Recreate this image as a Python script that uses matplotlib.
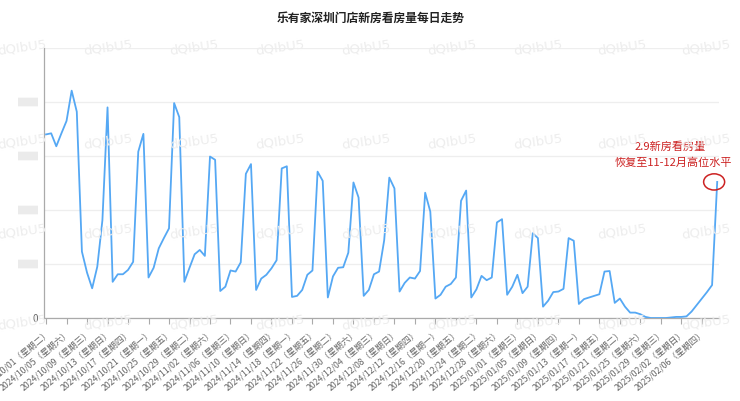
import matplotlib
matplotlib.use("Agg")
import matplotlib.pyplot as plt
import matplotlib.transforms as mtransforms
from matplotlib.patches import Ellipse, FancyBboxPatch
import pandas as pd

plt.rcParams['font.family'] = ['Noto Sans CJK SC', 'DejaVu Sans']

title = "乐有家深圳门店新房看房量每日走势"
start_date = "2024-10-01"
end_date = "2025-02-09"
weekday_names = ["星期一", "星期二", "星期三", "星期四", "星期五", "星期六", "星期日"]
values = [340, 342, 318, 342, 365, 421, 382, 123, 84, 55,
          95, 181, 390, 67, 81, 81, 89, 104, 308, 341,
          75, 93, 129, 148, 166, 398, 372, 67, 93, 118,
          126, 115, 299, 293, 50, 58, 88, 86, 103, 267,
          285, 52, 73, 80, 92, 107, 277, 281, 39, 41,
          52, 80, 88, 271, 254, 38, 77, 93, 94, 121,
          251, 223, 41, 52, 81, 86, 144, 260, 240, 49,
          65, 75, 73, 87, 232, 197, 36, 43, 58, 63,
          75, 217, 236, 38, 53, 78, 70, 75, 177, 183,
          43, 58, 80, 46, 58, 157, 148, 21, 32, 48,
          49, 54, 148, 143, 26, 35, 38, 41, 44, 86,
          87, 28, 36, 21, 10, 10, 7, 2, 0, 0,
          0, 0, 1, 2, 2, 3, 12, 24, 36, 48,
          61, 252]
yticks = [0, 100, 200, 300, 400, 500]
annotation_lines = ["2.9新房看房量", "恢复至11-12月高位水平"]
watermark = "dQIbU5"

dates = pd.date_range(start_date, end_date, freq="D")
labels = [f"{d.year}/{d.month:02d}/{d.day:02d}（{weekday_names[d.weekday()]}）" for d in dates]
x = list(range(len(dates)))

fig = plt.figure(figsize=(7.40, 4.01), dpi=100)
ax = fig.add_axes([44/740, 1-318/401, 675/740, 270/401])

ax.plot(x, values, color='#55a8f4', lw=1.3, zorder=3, solid_joinstyle='round')

ax.set_xlim(-0.4, len(x) - 1 + 0.35)
ax.set_ylim(0, 500)
ax.set_yticks(yticks)
ax.set_yticklabels(["0"] + [""] * (len(yticks) - 1), fontsize=7, color='#666666')
ax.yaxis.grid(True, color='#eeeeee', lw=0.9)
ax.set_axisbelow(True)
ax.tick_params(axis='y', length=0, pad=4)

tick_idx = x[::4]
ax.set_xticks(tick_idx)
ax.set_xticklabels([labels[i] for i in tick_idx], rotation=40, ha='right',
                   rotation_mode='anchor', fontsize=6.3, color='#666666')
ax.tick_params(axis='x', length=4, color='#aaaaaa', pad=3)

for s in ['top', 'right']:
    ax.spines[s].set_visible(False)
for s in ['left', 'bottom']:
    ax.spines[s].set_color('#aaaaaa')
    ax.spines[s].set_linewidth(0.9)

# blurred y labels
trans = mtransforms.blended_transform_factory(fig.transFigure, ax.transData)
for v in yticks[1:-1]:
    p = FancyBboxPatch((18/740, v - 8), 20/740, 16, boxstyle="round,pad=0,rounding_size=0.003",
                       transform=trans, facecolor='#ebebeb', edgecolor='none', clip_on=False)
    fig.add_artist(p)

# annotation
last = len(x) - 1
ell = Ellipse((last - 0.6, values[-1]), width=4.1, height=30, fill=False,
              edgecolor='#cc2222', lw=1.1, zorder=4, clip_on=False)
ax.add_patch(ell)
ax.text(last - 9.2, values[-1] + 66, annotation_lines[0], color='#cc2222',
        fontsize=8, ha='center', va='center')
ax.text(last - 8.6, values[-1] + 36, annotation_lines[1], color='#cc2222',
        fontsize=8, ha='center', va='center')

fig.text(371/740, 1-18/401, title, ha='center', va='center', fontsize=8.5,
         fontweight='bold', color='#222222')

# watermarks
for row_y in [48, 142, 232, 323]:
    for col_x in [22, 108, 194, 280, 366, 452, 538, 622, 706]:
        fig.text(col_x/740, 1-row_y/401, watermark, ha='center', va='center',
                 fontsize=9.5, color='#ededed', rotation=8, zorder=0,
                 family='DejaVu Sans')

fig.savefig("out.png", dpi=100)
